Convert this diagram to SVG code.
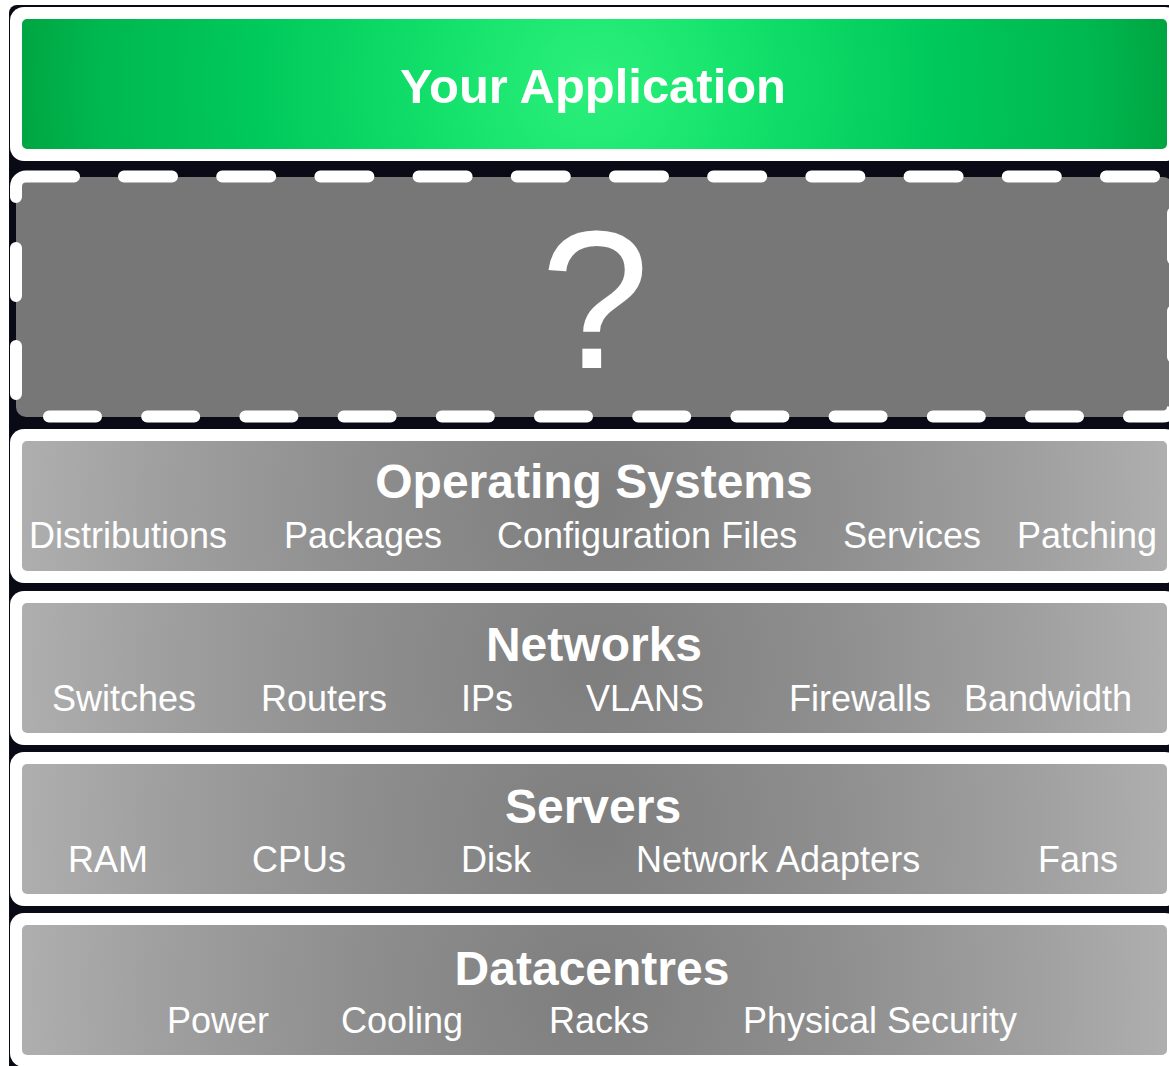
<svg xmlns="http://www.w3.org/2000/svg" width="1169" height="1066" viewBox="0 0 1169 1066">
<defs>
<radialGradient id="gGreen" gradientUnits="userSpaceOnUse" cx="594" cy="77" r="590">
<stop offset="0" stop-color="#2cf07b"/>
<stop offset="0.25" stop-color="#14e26c"/>
<stop offset="0.58" stop-color="#00c95b"/>
<stop offset="0.84" stop-color="#00b850"/>
<stop offset="1" stop-color="#00a23f"/>
</radialGradient>
<radialGradient id="gGray" gradientUnits="userSpaceOnUse" cx="594" cy="77" r="590">
<stop offset="0" stop-color="#7e7e7e"/>
<stop offset="0.4" stop-color="#8e8e8e"/>
<stop offset="0.75" stop-color="#a0a0a0"/>
<stop offset="1" stop-color="#b0b0b0"/>
</radialGradient>
<style>
.frame{fill:#ffffff}
.title{font-family:"Liberation Sans",Arial,Helvetica,sans-serif;font-weight:bold;font-size:48px;fill:#ffffff;text-anchor:middle}
.item{font-family:"Liberation Sans",Arial,Helvetica,sans-serif;font-size:36px;fill:#ffffff}
.dash{fill:none;stroke:#ffffff;stroke-width:12;stroke-linecap:round}
.panel{fill:url(#gGray)}
</style>
</defs>
<rect width="1169" height="1066" fill="#ffffff"/>
<rect x="9" y="5" width="1200" height="1100" rx="8" fill="#0a0a16"/>

<g id="your-application" transform="translate(0,7)">
<rect class="frame" x="10" y="0" width="1169" height="154" rx="14"/>
<rect x="22" y="12" width="1145" height="130" rx="5" fill="url(#gGreen)"/>
<text class="title" x="593" y="96" font-size="53" textLength="386" lengthAdjust="spacingAndGlyphs">Your Application</text>
</g>

<g id="unknown-layer">
<rect x="16" y="177" width="1157" height="240" rx="10" fill="#777777"/>
<path class="dash" d="M16,197 V186.5 A10,10 0 0 1 26,176.5 H74"/>
<line class="dash" x1="124" y1="176.5" x2="1173" y2="176.5" stroke-dasharray="48 50.2"/>
<line class="dash" x1="1173" y1="213" x2="1173" y2="380" stroke-dasharray="46 52"/>
<path class="dash" d="M1173,409 V406.5 A10,10 0 0 1 1163,416.5 H1129"/>
<line class="dash" x1="49" y1="416.5" x2="1100" y2="416.5" stroke-dasharray="47 51.2"/>
<line class="dash" x1="16" y1="248" x2="16" y2="400" stroke-dasharray="48 50"/>
<text x="595" y="368" font-family="Liberation Sans, Arial, Helvetica, sans-serif" font-size="196" fill="#ffffff" text-anchor="middle">?</text>
</g>

<g id="operating-systems" transform="translate(0,429)">
<rect class="frame" x="10" y="0" width="1169" height="154" rx="14"/>
<rect class="panel" x="22" y="12" width="1145" height="130" rx="5"/>
<text class="title" x="594" y="69">Operating Systems</text>
<text class="item" x="29" y="119">Distributions</text>
<text class="item" x="284" y="119">Packages</text>
<text class="item" x="497" y="119">Configuration Files</text>
<text class="item" x="843" y="119">Services</text>
<text class="item" x="1017" y="119">Patching</text>
</g>

<g id="networks" transform="translate(0,591)">
<rect class="frame" x="10" y="0" width="1169" height="154" rx="14"/>
<rect class="panel" x="22" y="12" width="1145" height="130" rx="5"/>
<text class="title" x="594" y="70">Networks</text>
<text class="item" x="52" y="120">Switches</text>
<text class="item" x="261" y="120">Routers</text>
<text class="item" x="461" y="120">IPs</text>
<text class="item" x="586" y="120">VLANS</text>
<text class="item" x="789" y="120">Firewalls</text>
<text class="item" x="964" y="120">Bandwidth</text>
</g>

<g id="servers" transform="translate(0,752)">
<rect class="frame" x="10" y="0" width="1169" height="154" rx="14"/>
<rect class="panel" x="22" y="12" width="1145" height="130" rx="5"/>
<text class="title" x="593" y="71">Servers</text>
<text class="item" x="68" y="120">RAM</text>
<text class="item" x="252" y="120">CPUs</text>
<text class="item" x="461" y="120">Disk</text>
<text class="item" x="636" y="120">Network Adapters</text>
<text class="item" x="1038" y="120">Fans</text>
</g>

<g id="datacentres" transform="translate(0,913)">
<rect class="frame" x="10" y="0" width="1169" height="154" rx="14"/>
<rect class="panel" x="22" y="12" width="1145" height="130" rx="5"/>
<text class="title" x="592" y="72">Datacentres</text>
<text class="item" x="167" y="120">Power</text>
<text class="item" x="341" y="120">Cooling</text>
<text class="item" x="549" y="120">Racks</text>
<text class="item" x="743" y="120">Physical Security</text>
</g>

<g id="connectors"/>
</svg>
